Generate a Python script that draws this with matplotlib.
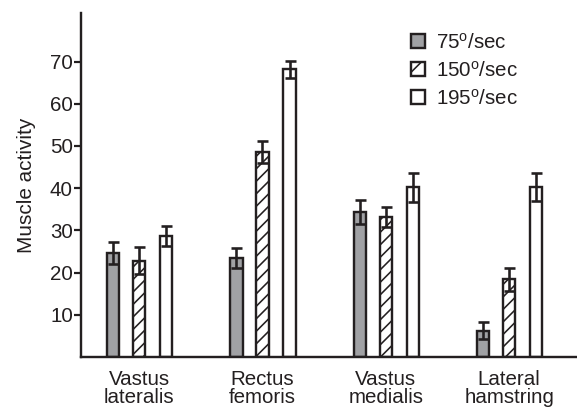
import numpy as np
import matplotlib
matplotlib.use("Agg")
import matplotlib.pyplot as plt
from matplotlib.patches import Patch

# Data
muscles = ["Vastus\nlateralis", "Rectus\nfemoris", "Vastus\nmedialis", "Lateral\nhamstring"]
speeds = ["75$^{\\mathrm{o}}$/sec", "150$^{\\mathrm{o}}$/sec", "195$^{\\mathrm{o}}$/sec"]
act_75 = [24.6, 23.4, 34.4, 6.2]
act_150 = [22.8, 48.5, 33.2, 18.4]
act_195 = [28.7, 68.2, 40.2, 40.2]
err_75 = [2.6, 2.4, 2.8, 2.0]
err_150 = [3.2, 2.6, 2.4, 2.8]
err_195 = [2.3, 2.0, 3.4, 3.3]

DPI = 150
def pt(px):
    # convert pixels to points at this dpi
    return px * 72.0 / DPI

INK = "#231f20"
GRAY = "#a0a1a4"
FS = pt(20.5)

plt.rcParams["font.family"] = ["Liberation Sans", "DejaVu Sans"]
plt.rcParams["mathtext.fontset"] = "custom"
plt.rcParams["mathtext.rm"] = "Liberation Sans"
plt.rcParams["hatch.linewidth"] = pt(1.6)
plt.rcParams["hatch.color"] = INK

fig = plt.figure(figsize=(577 / DPI, 407 / DPI), dpi=DPI)
ax = fig.add_axes([81 / 577, 50 / 407, 496 / 577, 344 / 407])

x = np.arange(len(muscles))
width = 0.1
offsets = [-0.21, 0.0, 0.22]
styles = [
    dict(facecolor=GRAY, hatch=None),
    dict(facecolor="white", hatch="////"),
    dict(facecolor="white", hatch=None),
]
series = [(act_75, err_75), (act_150, err_150), (act_195, err_195)]

for (vals, errs), off, st in zip(series, offsets, styles):
    ax.bar(x + off, vals, width, facecolor=st["facecolor"], hatch=st["hatch"],
           edgecolor=INK, linewidth=pt(2.4), zorder=2)
    ax.errorbar(x + off, vals, yerr=errs, fmt="none", ecolor=INK,
                elinewidth=pt(2.6), capsize=pt(5.5), capthick=pt(2.6), zorder=3)

ax.set_xlim(-0.47, 3.55)
ax.set_ylim(0, 81.5)
ax.set_yticks([10, 20, 30, 40, 50, 60, 70])
ax.set_xticks(x)
ax.set_xticklabels(muscles, fontsize=FS, color=INK, linespacing=0.94)

ax.tick_params(axis="y", length=pt(7), width=pt(2.2), color=INK,
               labelsize=FS, labelcolor=INK, pad=pt(1))
ax.tick_params(axis="x", length=0, pad=pt(13))

for side in ["top", "right"]:
    ax.spines[side].set_visible(False)
for side in ["left", "bottom"]:
    ax.spines[side].set_linewidth(pt(2.4))
    ax.spines[side].set_color(INK)

ax.set_ylabel("Muscle activity", fontsize=pt(20.8), color=INK)
ax.yaxis.set_label_coords(-0.091, 0.5)

handles = [Patch(facecolor=st["facecolor"], hatch=("///" if st["hatch"] else None),
                 edgecolor=INK, linewidth=pt(2.4)) for st in styles]
ax.legend(handles, speeds, loc="upper left", bbox_to_anchor=(0.665, 0.944),
          frameon=False, fontsize=FS, handlelength=0.68, handleheight=0.68,
          handletextpad=0.55, labelspacing=0.39, borderpad=0, borderaxespad=0,
          labelcolor=INK)

fig.savefig("out.png", dpi=DPI)
